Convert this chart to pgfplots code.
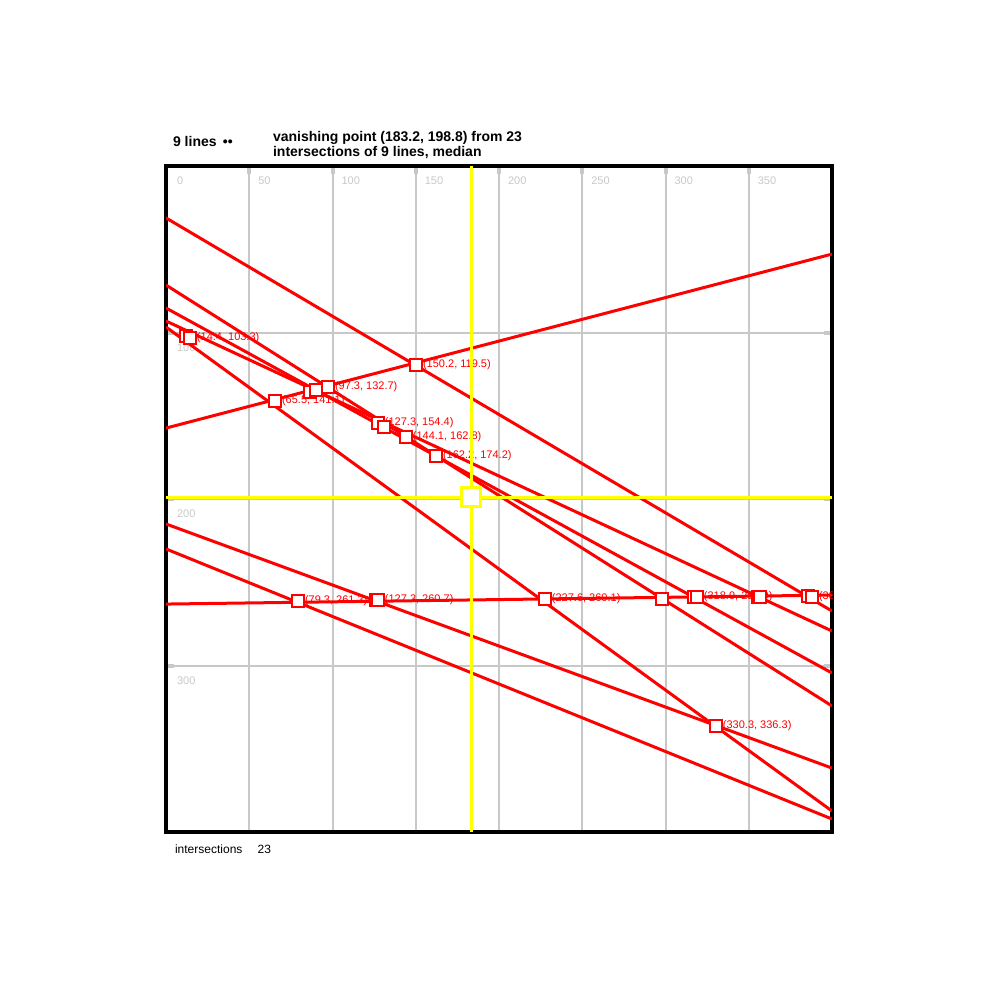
\documentclass[border=0pt]{standalone}
\usepackage{fontspec}
\setmainfont{Liberation Sans}
\usepackage{pgfplots}
\usepackage{pgfplotstable}
\pgfplotsset{compat=1.18}

\definecolor{gridgray}{RGB}{200,200,200}
\definecolor{vpred}{RGB}{255,0,0}
\definecolor{vpyellow}{RGB}{255,255,0}

% intersection points (image coordinates, y down); one label per cluster
\pgfplotstableread[col sep=semicolon]{
x;y;label
12.0;102.1;{}
14.4;103.3;(14.4, 103.3)
150.2;119.5;(150.2, 119.5)
65.5;141.1;(65.5, 141.1)
86.5;135.7;{}
90.1;134.5;{}
97.3;132.7;(97.3, 132.7)
127.3;154.4;(127.3, 154.4)
130.9;156.8;{}
144.1;162.8;(144.1, 162.8)
162.2;174.2;(162.2, 174.2)
79.3;261.3;(79.3, 261.3)
126.1;260.7;{}
127.3;260.7;(127.3, 260.7)
227.6;260.1;(227.6, 260.1)
297.9;260.1;{}
317.1;258.9;{}
318.9;258.9;(318.9, 258.9)
355.6;258.9;{}
356.8;258.9;{}
385.6;258.3;{}
388.0;258.9;(388.0, 258.9)
330.3;336.3;(330.3, 336.3)
}\markers

\begin{document}
\begin{tikzpicture}
\path (-83pt,-84pt) rectangle (417pt,416pt);
\begin{axis}[
  at={(0,0)}, anchor=south west,
  scale only axis, width=333pt, height=333pt,
  xmin=0, xmax=400, ymin=0, ymax=400, y dir=reverse,
  axis line style={line width=2pt, black},
  xtick={0,50,...,350}, ytick={0,100,200,300},
  xticklabels={,50,100,150,200,250,300,350},
  grid=major, grid style={line width=1pt, gridgray},
  tick align=inside, major tick length=4pt,
  every tick/.style={gridgray, line width=2pt},
  xtick pos=right, xticklabel pos=right,
  ytick pos=both, yticklabel pos=left,
  /pgf/number format/assume math mode=true,
  xticklabel style={anchor=north west, xshift=1pt, yshift=-2pt,
    font=\fontsize{5.5}{6}\selectfont, text=gridgray},
  yticklabel style={anchor=north west, xshift=2pt, yshift=-2pt,
    font=\fontsize{5.5}{6}\selectfont, text=gridgray},
  clip=true, clip mode=individual, clip marker paths=true,
]
\addplot[vpred, line width=1.5pt] coordinates {(0,31.2) (400,267.3)};
\addplot[vpred, line width=1.5pt] coordinates {(0,71.5) (400,324.3)};
\addplot[vpred, line width=1.5pt] coordinates {(0,85.3) (400,304.5)};
\addplot[vpred, line width=1.5pt] coordinates {(0,93.1) (400,279.3)};
\addplot[vpred, line width=1.5pt] coordinates {(0,96.7) (400,387.4)};
\addplot[vpred, line width=1.5pt] coordinates {(0,157.4) (400,52.9)};
\addplot[vpred, line width=1.5pt] coordinates {(0,215.0) (400,361.6)};
\addplot[vpred, line width=1.5pt] coordinates {(0,230.0) (400,392.2)};
\addplot[vpred, line width=1.5pt] coordinates {(0,263.1) (400,257.7)};
\addplot[vpred, only marks, mark=square*, mark size=2.8pt,
  mark options={line width=1pt, draw=vpred, fill=white},
  nodes near coords, point meta=explicit symbolic,
  every node near coord/.style={anchor=west, xshift=2pt, inner sep=1pt,
    font=\fontsize{5.5}{6}\selectfont, text=vpred}]
  table[x=x, y=y, meta=label] {\markers};
% estimated vanishing point
\addplot[vpyellow, line width=1.5pt] coordinates {(183.2,0) (183.2,400)};
\addplot[vpyellow, line width=1.5pt] coordinates {(0,198.8) (400,198.8)};
\addplot[only marks, mark=square*, mark size=4.8pt,
  mark options={line width=1.5pt, draw=vpyellow, fill=white}]
  coordinates {(183.2,198.8)};
\end{axis}
\node[anchor=west, font=\fontsize{7}{8}\selectfont\bfseries] at (0pt,345pt) {9 lines \,••};
\node[anchor=west, align=left, font=\fontsize{7}{7.5}\selectfont\bfseries] at (50pt,343.5pt)
  {vanishing point (183.2, 198.8) from 23\\ intersections of 9 lines, median};
\node[anchor=west, font=\fontsize{6}{7}\selectfont] at (1pt,-8.5pt) {intersections \quad 23};
\end{tikzpicture}
\end{document}
